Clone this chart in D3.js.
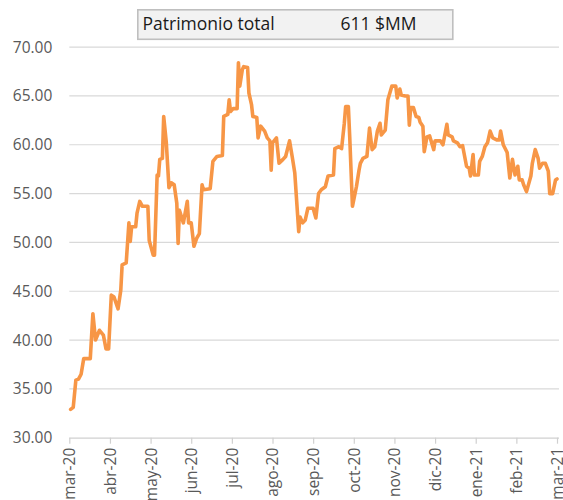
<!DOCTYPE html>
<html>
<head>
<meta charset="utf-8">
<script src="https://cdn.jsdelivr.net/npm/d3@7"></script>
<style>
  body { margin: 0; background: #fff; }
  svg { display: block; font-family: "Open Sans", "Noto Sans", sans-serif; }
</style>
</head>
<body>
<div id="chart"></div>
<script>
/*
 * Patrimonio total - serie diaria mar-20 a mar-21
 */
var titleLabel = "Patrimonio total";
var titleValue = "611 $MM";

var monthLabels = ["mar-20", "abr-20", "may-20", "jun-20", "jul-20", "ago-20", "sep-20",
                   "oct-20", "nov-20", "dic-20", "ene-21", "feb-21", "mar-21"];
var yTicks = [30, 35, 40, 45, 50, 55, 60, 65, 70];

var dates = [
  "2020-03-02","2020-03-04","2020-03-06","2020-03-08","2020-03-10","2020-03-12","2020-03-17","2020-03-19",
  "2020-03-21","2020-03-24","2020-03-27","2020-03-29","2020-03-31","2020-04-02","2020-04-04","2020-04-07",
  "2020-04-09","2020-04-10","2020-04-13","2020-04-15","2020-04-16","2020-04-17","2020-04-20","2020-04-21",
  "2020-04-23","2020-04-25","2020-04-29","2020-04-30","2020-05-03","2020-05-04","2020-05-06","2020-05-07",
  "2020-05-08","2020-05-10","2020-05-11","2020-05-13","2020-05-15","2020-05-17","2020-05-19","2020-05-21",
  "2020-05-22","2020-05-23","2020-05-26","2020-05-29","2020-05-30","2020-06-01","2020-06-03","2020-06-05",
  "2020-06-07","2020-06-09","2020-06-10","2020-06-15","2020-06-17","2020-06-20","2020-06-24","2020-06-25",
  "2020-06-28","2020-06-29","2020-06-30","2020-07-02","2020-07-05","2020-07-06","2020-07-07","2020-07-09",
  "2020-07-10","2020-07-13","2020-07-14","2020-07-16","2020-07-17","2020-07-20","2020-07-21","2020-07-23",
  "2020-07-26","2020-07-28","2020-07-30","2020-07-31","2020-08-01","2020-08-04","2020-08-06","2020-08-09",
  "2020-08-11","2020-08-14","2020-08-16","2020-08-18","2020-08-21","2020-08-22","2020-08-24","2020-08-26",
  "2020-08-28","2020-09-01","2020-09-03","2020-09-05","2020-09-07","2020-09-10","2020-09-12","2020-09-16",
  "2020-09-17","2020-09-20","2020-09-22","2020-09-24","2020-09-25","2020-09-27","2020-09-28","2020-09-30",
  "2020-10-03","2020-10-05","2020-10-06","2020-10-08","2020-10-11","2020-10-13","2020-10-15","2020-10-17",
  "2020-10-19","2020-10-21","2020-10-22","2020-10-25","2020-10-27","2020-10-30","2020-11-02","2020-11-03",
  "2020-11-05","2020-11-06","2020-11-09","2020-11-11","2020-11-12","2020-11-13","2020-11-15","2020-11-17",
  "2020-11-19","2020-11-20","2020-11-22","2020-11-23","2020-11-25","2020-11-27","2020-11-30","2020-12-01",
  "2020-12-05","2020-12-07","2020-12-10","2020-12-11","2020-12-14","2020-12-15","2020-12-18","2020-12-20",
  "2020-12-22","2020-12-25","2020-12-27","2020-12-28","2020-12-30","2020-12-31","2021-01-03","2021-01-04",
  "2021-01-06","2021-01-08","2021-01-10","2021-01-12","2021-01-14","2021-01-17","2021-01-19","2021-01-20",
  "2021-01-22","2021-01-25","2021-01-27","2021-01-29","2021-01-31","2021-02-02","2021-02-03","2021-02-05",
  "2021-02-06","2021-02-08","2021-02-11","2021-02-12","2021-02-14","2021-02-16","2021-02-17","2021-02-19",
  "2021-02-21","2021-02-23","2021-02-24","2021-02-26","2021-02-28","2021-03-01"
];
var values = [
  32.9, 33.1, 35.9, 36.0, 36.5, 38.1, 38.1, 42.7,
  40.0, 41.0, 40.5, 39.1, 39.1, 44.6, 44.4, 43.2,
  45.1, 47.7, 47.9, 52.0, 50.1, 51.6, 51.6, 53.0,
  54.2, 53.7, 53.7, 50.2, 48.7, 48.7, 56.9, 56.8,
  58.5, 58.6, 62.9, 60.2, 55.6, 56.1, 55.9, 54.0,
  49.9, 53.3, 52.0, 54.2, 52.0, 52.0, 49.6, 50.4,
  50.9, 55.9, 55.4, 55.5, 58.3, 58.8, 58.9, 62.9,
  63.1, 64.6, 63.4, 63.7, 63.7, 68.4, 66.0, 67.7,
  68.0, 67.9, 65.3, 64.1, 62.9, 62.8, 60.7, 61.9,
  61.4, 60.7, 60.4, 57.4, 60.2, 60.7, 58.1, 58.5,
  58.8, 60.4, 58.8, 57.1, 51.1, 52.6, 52.0, 52.3,
  53.5, 53.5, 52.5, 55.0, 55.4, 55.7, 56.8, 56.9,
  59.6, 59.8, 59.6, 62.2, 63.9, 63.9, 60.8, 53.7,
  55.7, 57.4, 58.1, 58.6, 58.8, 61.7, 59.5, 59.8,
  61.4, 62.2, 61.0, 61.5, 64.6, 66.0, 66.0, 64.8,
  65.7, 65.1, 65.0, 65.0, 62.0, 63.8, 63.8, 62.9,
  62.8, 62.3, 61.9, 59.3, 60.8, 60.9, 59.5, 60.4,
  60.4, 60.0, 62.1, 61.0, 60.8, 60.4, 60.2, 59.8,
  59.9, 57.8, 57.6, 56.8, 59.0, 56.9, 56.9, 58.3,
  58.8, 59.8, 60.2, 61.4, 60.7, 60.5, 60.5, 61.4,
  60.0, 59.2, 56.6, 58.5, 56.9, 57.8, 56.4, 56.4,
  55.9, 55.2, 56.8, 58.1, 59.5, 58.6, 57.6, 58.1,
  58.1, 57.3, 55.0, 55.0, 56.4, 56.5
];

var parseDate = d3.timeParse("%Y-%m-%d");

// months are equally spaced on the axis, so a date becomes "months since mar-20"
function monthPos(d) {
    var m = (d.getFullYear() - 2020) * 12 + d.getMonth() - 2;
    var days = new Date(d.getFullYear(), d.getMonth() + 1, 0).getDate();
    return m + (d.getDate() - 1) / days;
}

var data = dates.map(function(s, i) {
    return {pos: monthPos(parseDate(s)), value: values[i]};
});

var width = 563, height = 500;
var plot = {left: 69.3, right: 557, top: 47.1, bottom: 437.7};

var svg = d3.select("#chart")
  .append("svg")
    .attr("width", width)
    .attr("height", height);

var x = d3.scaleLinear()
    .domain([0, monthLabels.length - 1])
    .range([plot.left, plot.right]);

var y = d3.scaleLinear()
    .domain([30, 70])
    .range([plot.bottom, plot.top]);

// gridlines
svg.append("g")
  .selectAll("line")
  .data(yTicks.filter(function(d) { return d > 30; }))
  .enter().append("line")
    .attr("x1", plot.left)
    .attr("x2", plot.right + 2)
    .attr("y1", function(d) { return y(d); })
    .attr("y2", function(d) { return y(d); })
    .style("stroke", "#d9d9d9")
    .style("stroke-width", 1.2);

// y axis labels
var yAxis = svg.append("g")
    .attr("transform", "translate(" + plot.left + ",0)")
    .call(d3.axisLeft(y).tickValues(yTicks).tickFormat(d3.format(".2f")).tickSize(0).tickPadding(17));
yAxis.select(".domain").remove();
yAxis.selectAll("text")
    .style("font-family", "'Open Sans', sans-serif")
    .style("font-size", "15.5px")
    .style("fill", "#595959");

// x axis
var xAxis = svg.append("g")
    .attr("transform", "translate(0," + plot.bottom + ")")
    .call(d3.axisBottom(x)
        .tickValues(d3.range(monthLabels.length))
        .tickFormat(function(i) { return monthLabels[i]; })
        .tickSizeOuter(0)
        .tickSize(6));
xAxis.select(".domain")
    .attr("d", "M" + plot.left + ",0.5H" + (plot.right + 2))
    .style("stroke", "#d0d0d0")
    .style("stroke-width", 1.2);
xAxis.selectAll(".tick line")
    .style("stroke", "#d0d0d0")
    .style("stroke-width", 1.2);
xAxis.selectAll("text")
    .attr("transform", "rotate(-90)")
    .attr("x", -10)
    .attr("y", 0)
    .attr("dy", "0.35em")
    .style("text-anchor", "end")
    .style("font-family", "'Open Sans', sans-serif")
    .style("font-size", "15.5px")
    .style("fill", "#595959");

// the series
var line = d3.line()
    .x(function(d) { return x(d.pos); })
    .y(function(d) { return y(d.value); });

svg.append("path")
    .datum(data)
    .attr("d", line)
    .style("fill", "none")
    .style("stroke", "#f79646")
    .style("stroke-width", 3.6)
    .style("stroke-linejoin", "round")
    .style("stroke-linecap", "round");

// title box
var box = svg.append("g");
box.append("rect")
    .attr("x", 137.8)
    .attr("y", 9.8)
    .attr("width", 315)
    .attr("height", 29.5)
    .style("fill", "#f2f2f2")
    .style("stroke", "#bfbfbf")
    .style("stroke-width", 1.6);
box.append("text")
    .attr("x", 142.5)
    .attr("y", 29.5)
    .text(titleLabel)
    .style("font-size", "17.5px")
    .style("fill", "#1a1a1a");
box.append("text")
    .attr("x", 416.5)
    .attr("y", 29.5)
    .style("text-anchor", "end")
    .text(titleValue)
    .style("font-size", "17.5px")
    .style("fill", "#1a1a1a");
</script>
</body>
</html>
